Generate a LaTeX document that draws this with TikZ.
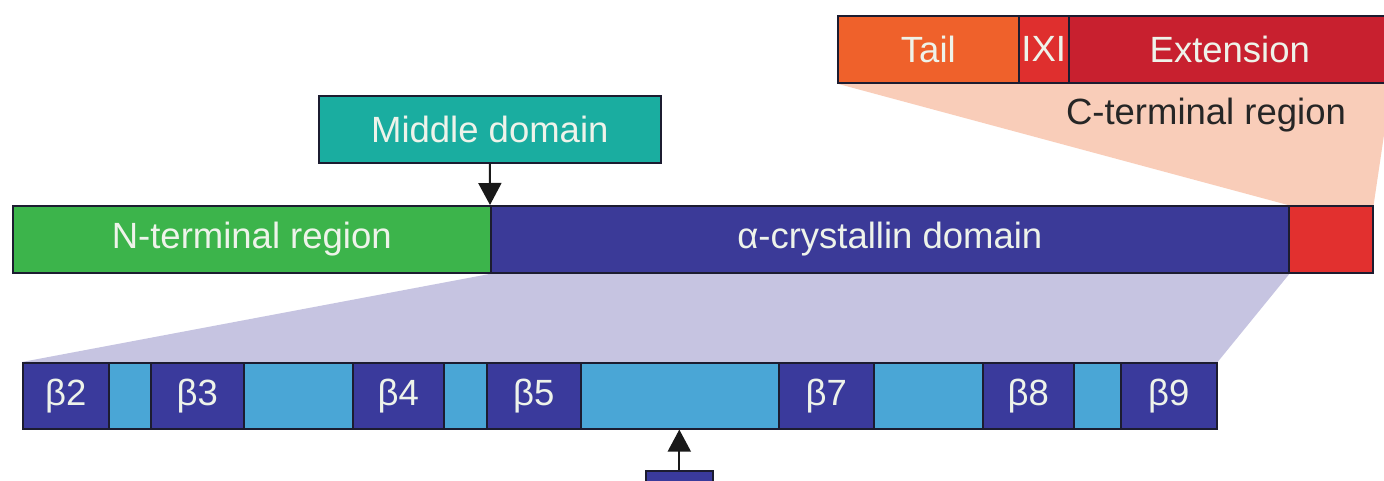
\documentclass[tikz,border=0pt]{standalone}
\usepackage{fontspec}
\setmainfont{Liberation Sans}
\usetikzlibrary{arrows.meta}
\pgfdeclarelayer{bg}
\pgfsetlayers{bg,main}

\definecolor{edge}{HTML}{1C1C30}
\definecolor{nterm}{HTML}{3CB44B}
\definecolor{acd}{HTML}{3B3A98}
\definecolor{cterm}{HTML}{E2302F}
\definecolor{middle}{HTML}{1AADA0}
\definecolor{tail}{HTML}{EF612B}
\definecolor{ixi}{HTML}{DF2F2E}
\definecolor{ext}{HTML}{C8202F}
\definecolor{peach}{HTML}{F9CDB9}
\definecolor{lavender}{HTML}{C6C4E1}
\definecolor{strand}{HTML}{3A3A9C}
\definecolor{loopc}{HTML}{4AA6D6}
\definecolor{lighttext}{HTML}{EEF3EA}

\begin{document}
\begin{tikzpicture}[x=1pt,y=-1pt,
  seg/.style={draw=edge, line width=1.6pt, anchor=north west, inner sep=0pt,
    minimum height=67pt, font=\fontsize{36.5}{40}\selectfont, text=lighttext},
  link/.style={draw=black!90, line width=2pt, -{Triangle[width=23pt,length=22pt]}},
]
\clip (0,0) rectangle (1384,481);

% C-terminal detail bar
\node[seg, fill=tail,  minimum width=181pt] (tail) at (837,15) {Tail};
\node[seg, fill=ixi,   minimum width=50pt]  (ixi)  at (1018,15) {IXI};
\node[seg, fill=ext,   minimum width=322pt] (ext)  at (1068,15) {Extension};
\node[font=\fontsize{36.5}{40}\selectfont, text=black!85] (clabel) at (1206,115) {C-terminal region};

% middle domain
\node[seg, fill=middle, minimum width=342pt] (mid) at (318,95) {Middle domain};

% full-length protein
\node[seg, fill=nterm, minimum width=478pt] (nterm) at (12,205) {N-terminal region};
\node[seg, fill=acd,   minimum width=798pt] (acd)   at (490,205) {α-crystallin domain};
\node[seg, fill=cterm, minimum width=84pt]  (cred)  at (1288,205) {};

% alpha-crystallin domain strands and loops
\tikzset{bs/.style={seg, fill=strand, minimum height=66pt},
         lp/.style={seg, fill=loopc, minimum height=66pt}}
\node[bs, minimum width=86pt]  (b2) at (22,362)   {β2};
\node[lp, minimum width=42pt]  (l1) at (108,362)  {};
\node[bs, minimum width=93pt]  (b3) at (150,362)  {β3};
\node[lp, minimum width=109pt] (l2) at (243,362)  {};
\node[bs, minimum width=91pt]  (b4) at (352,362)  {β4};
\node[lp, minimum width=43pt]  (l3) at (443,362)  {};
\node[bs, minimum width=94pt]  (b5) at (486,362)  {β5};
\node[lp, minimum width=198pt] (l4) at (580,362)  {};
\node[bs, minimum width=95pt]  (b7) at (778,362)  {β7};
\node[lp, minimum width=109pt] (l5) at (873,362)  {};
\node[bs, minimum width=91pt]  (b8) at (982,362)  {β8};
\node[lp, minimum width=47pt]  (l6) at (1073,362) {};
\node[bs, minimum width=96pt]  (b9) at (1120,362) {β9};

% partner strand below
\node[seg, fill=strand, minimum width=67pt, minimum height=40pt] (partner) at (645,470) {};

% background and zoom wedges
\begin{pgfonlayer}{bg}
  \fill[white] (0,0) rectangle (1384,481);
  \fill[peach] (tail.south west) -- (ext.south east) -- (cred.north east) -- (cred.north west) -- cycle;
  \fill[lavender] (nterm.south east) -- (acd.south east) -- (b9.north east) -- (b2.north west) -- cycle;
\end{pgfonlayer}

% connectors
\draw[link] (mid.south) -- (acd.north west);
\draw[link] (partner.north) -- (partner.north |- l4.south);
\end{tikzpicture}
\end{document}
